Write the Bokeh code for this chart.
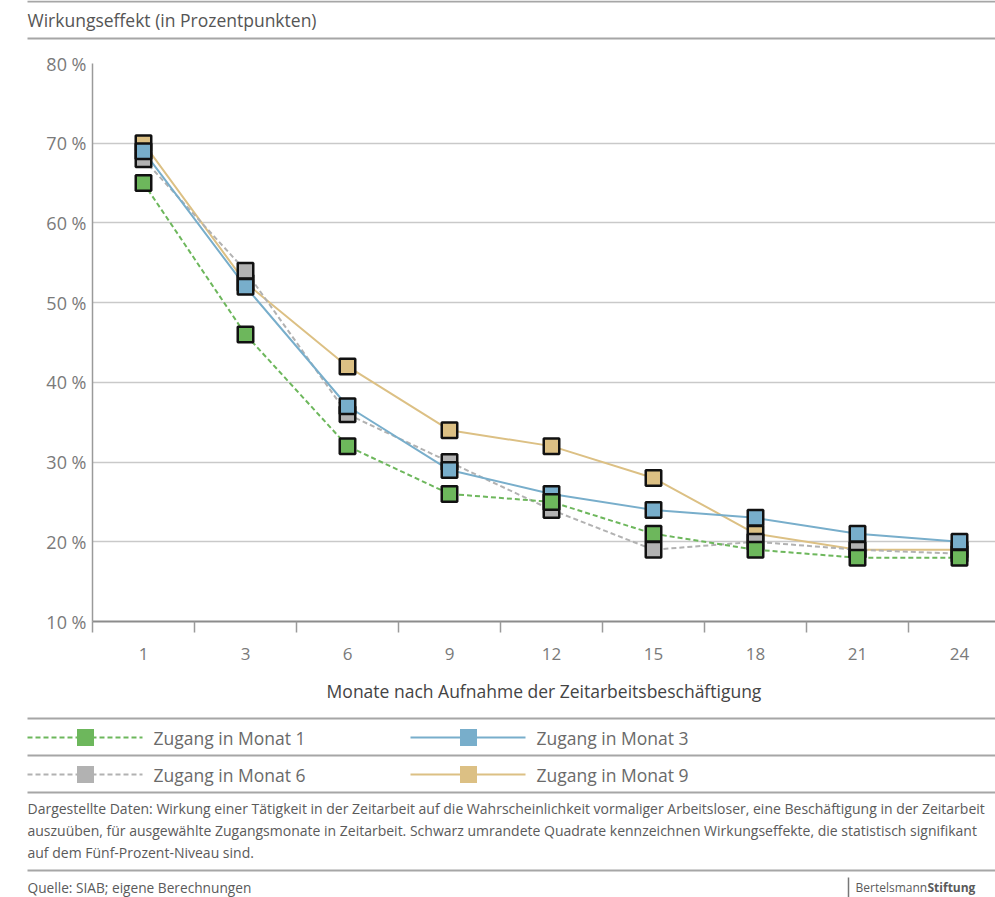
from bokeh.plotting import figure
from bokeh.models import Range1d, FixedTicker
from bokeh.layouts import column
from bokeh.embed import file_html
from bokeh.resources import INLINE
from bokeh.core.properties import value

# ---------------- data ----------------
months = ["1", "3", "6", "9", "12", "15", "18", "21", "24"]
zugang_1 = [65, 46, 32, 26, 25, 21, 19, 18, 18]
zugang_3 = [69, 52, 37, 29, 26, 24, 23, 21, 20]
zugang_6 = [68, 54, 36, 30, 24, 19, 20, 19, 18.5]
zugang_9 = [70, 52.5, 42, 34, 32, 28, 21, 19, 19]
y_ticks = [10, 20, 30, 40, 50, 60, 70, 80]
series_names = ["Zugang in Monat 1", "Zugang in Monat 3", "Zugang in Monat 6", "Zugang in Monat 9"]

title_text = "Wirkungseffekt (in Prozentpunkten)"
x_title = "Monate nach Aufnahme der Zeitarbeitsbeschäftigung"
note_lines = [
    "Dargestellte Daten: Wirkung einer Tätigkeit in der Zeitarbeit auf die Wahrscheinlichkeit vormaliger Arbeitsloser, eine Beschäftigung in der Zeitarbeit",
    "auszuüben, für ausgewählte Zugangsmonate in Zeitarbeit. Schwarz umrandete Quadrate kennzeichnen Wirkungseffekte, die statistisch signifikant",
    "auf dem Fünf-Prozent-Niveau sind.",
]
source_text = "Quelle: SIAB; eigene Berechnungen"

# ---------------- styles ----------------
FONT = "Open Sans"
GREEN = "#6db75c"
BLUE = "#78aecb"
GRAY = "#b2b2b2"
GOLD = "#dcc084"
RULE = "#a6a6a6"
DASH = "5 3"
W = 995

def blank(height):
    f = figure(width=W, height=height, x_range=Range1d(0, W), y_range=Range1d(height, 0),
               toolbar_location=None, output_backend="svg", x_axis_location=None,
               y_axis_location=None, min_border=0, frame_align=False)
    f.grid.visible = False
    f.outline_line_color = None
    return f

# ---------------- header ----------------
h = blank(40)
h.segment(x0=[27, 27], y0=[1, 38], x1=[W, W], y1=[1, 38], line_color=RULE, line_width=2)
h.text(x=[27], y=[19], text=[title_text], text_font=value(FONT), text_font_size="17.5px",
       text_color="#555555", text_baseline="middle", text_align="left")

# ---------------- main chart ----------------
n = len(months)
xs = [i + 0.5 for i in range(n)]
p = figure(width=W, height=668, x_range=Range1d(0, 8.853), y_range=Range1d(10, 80),
           toolbar_location=None, output_backend="svg", frame_align=False,
           min_border_left=92, min_border_right=0, min_border_top=23, min_border_bottom=87)
p.outline_line_color = None
p.xgrid.visible = False
p.ygrid.ticker = FixedTicker(ticks=y_ticks)
p.ygrid.grid_line_color = "#c9c9c9"
p.ygrid.grid_line_width = 1.5

ya = p.yaxis[0]
ya.ticker = FixedTicker(ticks=y_ticks)
ya.major_label_overrides = {t: f"{t} %" for t in y_ticks}
ya.major_tick_out = 0
ya.major_tick_in = 0
ya.minor_tick_out = 0
ya.minor_tick_in = 0
ya.axis_line_color = "#9a9a9a"
ya.axis_line_width = 1.5
ya.major_label_standoff = 6
ya.major_label_text_font = FONT
ya.major_label_text_font_size = "18px"
ya.major_label_text_color = "#7a7a7a"

xa = p.xaxis[0]
xa.ticker = FixedTicker(ticks=xs, minor_ticks=list(range(n)))
xa.major_label_overrides = {x: m for x, m in zip(xs, months)}
xa.major_tick_out = 0
xa.major_tick_in = 0
xa.minor_tick_out = 11
xa.minor_tick_in = 0
xa.minor_tick_line_color = "#9a9a9a"
xa.minor_tick_line_width = 1.5
xa.axis_line_color = "#8c8c8c"
xa.axis_line_width = 2
xa.major_label_standoff = 15
xa.major_label_text_font = FONT
xa.major_label_text_font_size = "17px"
xa.major_label_text_color = "#7a7a7a"
xa.axis_label = x_title
xa.axis_label_standoff = 16
xa.axis_label_text_font = FONT
xa.axis_label_text_font_size = "17.5px"
xa.axis_label_text_font_style = "normal"
xa.axis_label_text_color = "#444444"

series = [
    (zugang_9, GOLD, "solid"),
    (zugang_6, GRAY, DASH),
    (zugang_3, BLUE, "solid"),
    (zugang_1, GREEN, DASH),
]
for ys, col, dash in series:
    p.line(x=xs, y=ys, line_color=col, line_width=2, line_dash=dash)
for ys, col, dash in series:
    p.scatter(x=xs, y=ys, marker="square", size=15.5, fill_color=col,
              line_color="#111111", line_width=2.5)

# ---------------- legend + footer ----------------
f = blank(189)
f.segment(x0=[27] * 4, y0=[10, 47, 84, 162], x1=[W] * 4, y1=[10, 47, 84, 162],
          line_color=RULE, line_width=2)
leg_cols = [GREEN, BLUE, GRAY, GOLD]
leg_dash = [DASH, "solid", DASH, "solid"]
leg_x0 = [27, 410, 27, 410]
leg_y = [29, 29, 66, 66]
for name, col, dash, x0, yy in zip(series_names, leg_cols, leg_dash, leg_x0, leg_y):
    f.segment(x0=[x0], y0=[yy], x1=[x0 + 115], y1=[yy], line_color=col, line_width=2, line_dash=dash)
    f.scatter(x=[x0 + 58], y=[yy], marker="square", size=17, fill_color=col, line_color=None)
    f.text(x=[x0 + 126], y=[yy], text=[name], text_font=value(FONT), text_font_size="17.5px",
           text_color="#6a6a6a", text_baseline="middle", text_align="left")
f.text(x=[27, 27, 27], y=[100, 122, 144], text=note_lines, text_font=value(FONT),
       text_font_size="14px", text_color="#5a5a5a", text_baseline="middle", text_align="left")
f.text(x=[27], y=[179], text=[source_text], text_font=value(FONT),
       text_font_size="13.7px", text_color="#5a5a5a", text_baseline="middle", text_align="left")
f.segment(x0=[848], y0=[169], x1=[848], y1=[189], line_color="#777777", line_width=1.5)
f.text(x=[855], y=[179], text=["Bertelsmann"], text_font=value(FONT),
       text_font_size="12px", text_color="#5a5a5a", text_baseline="middle", text_align="left")
f.text(x=[927], y=[179], text=["Stiftung"], text_font=value(FONT), text_font_style="bold",
       text_font_size="12px", text_color="#5a5a5a", text_baseline="middle", text_align="left")

layout = column(h, p, f, spacing=0)
open("out.html", "w").write(file_html(layout, INLINE))
